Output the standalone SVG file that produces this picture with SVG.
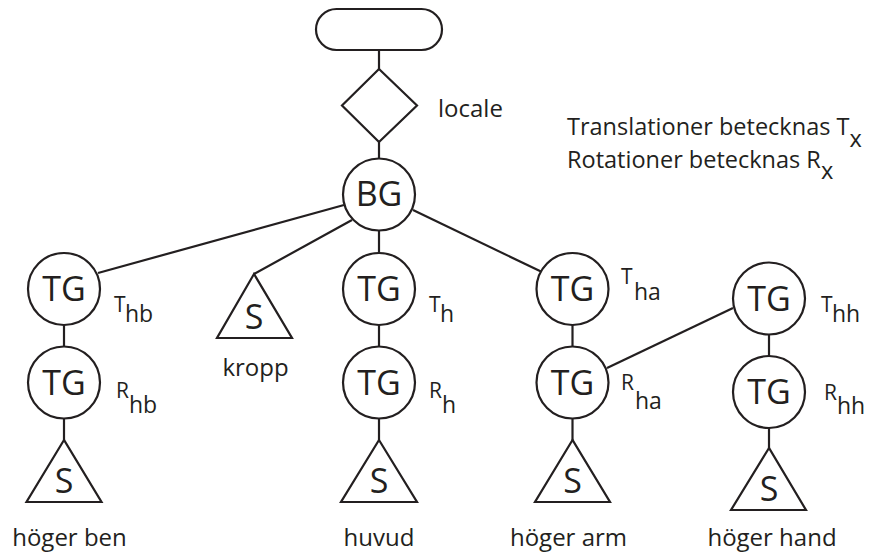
<svg xmlns="http://www.w3.org/2000/svg" width="870" height="553" viewBox="0 0 870 553">
<style>
.s{fill:none;stroke:#231f20;stroke-width:2.2}
.n{fill:#fff;stroke:#231f20;stroke-width:2.2}
text{font-family:"Open Sans","Liberation Sans",sans-serif;fill:#231f20}
.big{font-size:34px;text-anchor:middle}
.lbl{font-size:24px}
.leg{font-size:23.5px}
.c{text-anchor:middle}
.sm{font-size:21px}
.sub{font-size:23px}
</style>
<rect width="870" height="553" fill="#fff"/>
<g id="connectors" class="s">
<line x1="379" y1="50" x2="379" y2="69"/>
<line x1="379" y1="142" x2="379" y2="159"/>
<line x1="344" y1="205" x2="98" y2="273"/>
<line x1="352" y1="220" x2="254" y2="274"/>
<line x1="379" y1="230" x2="379" y2="253"/>
<line x1="413" y1="210" x2="542" y2="272"/>
<line x1="64" y1="325" x2="64" y2="347"/>
<line x1="64" y1="419" x2="64" y2="440"/>
<line x1="379" y1="325" x2="379" y2="347"/>
<line x1="379" y1="419" x2="379" y2="440"/>
<line x1="572.5" y1="325" x2="572.5" y2="347"/>
<line x1="572.5" y1="419" x2="572.5" y2="440"/>
<line x1="607" y1="368" x2="733" y2="308"/>
<line x1="769" y1="334.5" x2="769" y2="356"/>
<line x1="769" y1="428" x2="769" y2="448"/>
</g>
<g id="root"><rect class="n" x="316" y="9" width="126" height="41" rx="20.5"/></g>
<g id="locale"><polygon class="n" points="379,69 417,105.5 379,142 342,105.5"/><text class="lbl" x="438" y="117">locale</text></g>
<g id="bg"><circle class="n" cx="379" cy="194.5" r="36"/><text class="big" x="379" y="206">BG</text></g>
<g id="tg-thb"><circle class="n" cx="64" cy="289" r="36"/><text class="big" x="64" y="301">TG</text><text class="sm" x="114" y="312">T</text><text class="sub" x="125" y="322">hb</text></g>
<g id="tg-rhb"><circle class="n" cx="64" cy="382.5" r="36"/><text class="big" x="64" y="394.5">TG</text><text class="sm" x="116" y="398">R</text><text class="sub" x="129" y="413">hb</text></g>
<g id="s-ben"><polygon class="n" points="64,440 26.5,502 101.5,502"/><text class="big" x="64" y="493">S</text><text class="lbl c" x="69.5" y="546">höger ben</text></g>
<g id="s-kropp"><polygon class="n" points="254,274 217,338 292,338"/><text class="big" x="254" y="329">S</text><text class="lbl c" x="255.5" y="376">kropp</text></g>
<g id="tg-th"><circle class="n" cx="379" cy="289" r="36"/><text class="big" x="379" y="301">TG</text><text class="sm" x="429" y="312">T</text><text class="sub" x="440" y="322">h</text></g>
<g id="tg-rh"><circle class="n" cx="379" cy="382.5" r="36"/><text class="big" x="379" y="394.5">TG</text><text class="sm" x="429" y="398">R</text><text class="sub" x="442" y="413">h</text></g>
<g id="s-huvud"><polygon class="n" points="379,440 341,502 417,502"/><text class="big" x="379" y="493">S</text><text class="lbl c" x="379" y="546">huvud</text></g>
<g id="tg-tha"><circle class="n" cx="572.5" cy="289" r="36"/><text class="big" x="572.5" y="301">TG</text><text class="sm" x="621" y="284">T</text><text class="sub" x="634" y="300">ha</text></g>
<g id="tg-rha"><circle class="n" cx="572.5" cy="382.5" r="36"/><text class="big" x="572.5" y="394.5">TG</text><text class="sm" x="621" y="390">R</text><text class="sub" x="635" y="409">ha</text></g>
<g id="s-arm"><polygon class="n" points="572.5,440 535,502 610,502"/><text class="big" x="572.5" y="493">S</text><text class="lbl c" x="568.5" y="546">höger arm</text></g>
<g id="tg-thh"><circle class="n" cx="769" cy="298.5" r="36"/><text class="big" x="769" y="310.5">TG</text><text class="sm" x="821" y="312">T</text><text class="sub" x="832" y="322">hh</text></g>
<g id="tg-rhh"><circle class="n" cx="769" cy="392" r="36"/><text class="big" x="769" y="404">TG</text><text class="sm" x="824" y="400">R</text><text class="sub" x="837" y="414">hh</text></g>
<g id="s-hand"><polygon class="n" points="769,448 731,510 806,510"/><text class="big" x="769" y="501">S</text><text class="lbl c" x="772" y="546">höger hand</text></g>
<g id="legend">
<text class="leg" x="567" y="135">Translationer betecknas T<tspan dy="12">x</tspan></text>
<text class="leg" x="567" y="168">Rotationer betecknas R<tspan dy="11">x</tspan></text>
</g>
</svg>
